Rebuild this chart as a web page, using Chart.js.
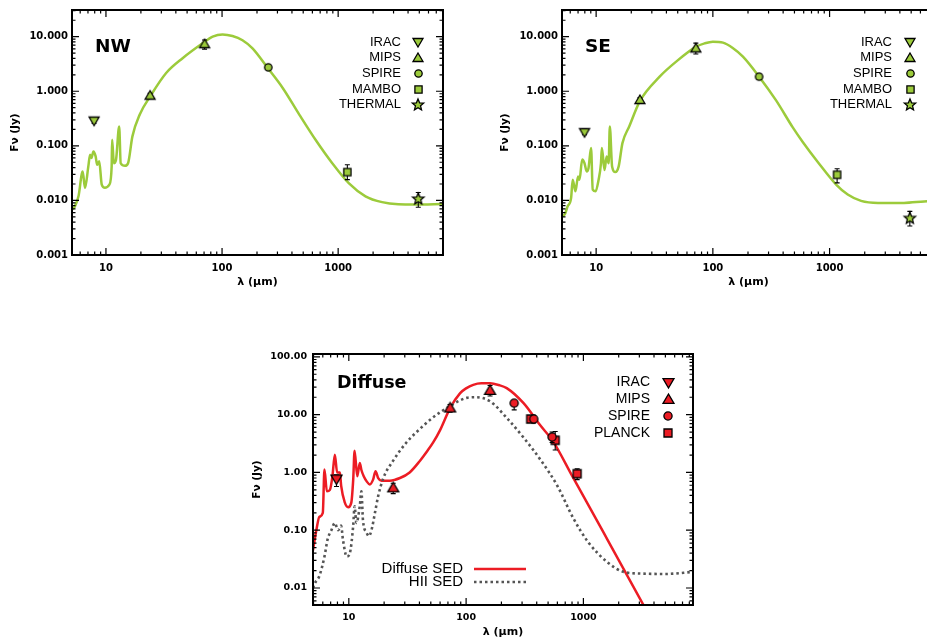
<!DOCTYPE html>
<html>
<head>
<meta charset="utf-8">
<script src="https://cdn.jsdelivr.net/npm/chart.js@4.4.1/dist/chart.umd.min.js"></script>
<style>
  html, body { margin: 0; padding: 0; background: #fff; }
  #page { position: relative; width: 927px; height: 640px; overflow: hidden; }
  canvas { position: absolute; }
</style>
</head>
<body>
<div id="page">
  <canvas id="nw" width="460" height="300" style="left:0;top:0"></canvas>
  <canvas id="se" width="460" height="300" style="left:490px;top:0"></canvas>
  <canvas id="diff" width="460" height="300" style="left:241px;top:340px"></canvas>
</div>
<script>
// ---- values ----
const xTickVals = [10, 100, 1000];
const xTickLabels = ['10', '100', '1000'];
const topYTickVals = [0.001, 0.01, 0.1, 1, 10];
const topYTickLabels = ['0.001', '0.010', '0.100', '1.000', '10.000'];
const diffYTickVals = [0.01, 0.1, 1, 10, 100];
const diffYTickLabels = ['0.01', '0.10', '1.00', '10.00', '100.00'];

const topLegendBands = ['IRAC', 'MIPS', 'SPIRE', 'MAMBO', 'THERMAL'];
const diffLegendBands = ['IRAC', 'MIPS', 'SPIRE', 'PLANCK'];
const modelLegendLabels = ['Diffuse SED', 'HII SED'];

// NW region
const nwModelLam = [5.1, 5.4, 5.8, 6.3, 6.6, 7.05, 7.3, 7.5, 7.8, 8.15, 8.4, 8.75, 9.2, 9.8, 10.7, 11.2, 11.3, 11.7, 12.2, 13.0, 13.4, 14.6, 15.5, 16.9, 19.6, 24, 33, 46, 68, 83, 101, 123, 150, 183, 246, 333, 464, 645, 890, 1240, 1720, 2390, 3300, 4600, 8000];
const nwModelFlux = [0.0068, 0.0078, 0.0119, 0.034, 0.0169, 0.042, 0.069, 0.060, 0.079, 0.064, 0.045, 0.052, 0.0195, 0.017, 0.0195, 0.042, 0.129, 0.048, 0.055, 0.226, 0.048, 0.043, 0.048, 0.149, 0.38, 0.80, 2.16, 4.07, 7.55, 10.0, 11.0, 10.3, 8.6, 6.1, 2.71, 1.15, 0.37, 0.125, 0.048, 0.0205, 0.0119, 0.0093, 0.0085, 0.0084, 0.0086];
const nwObsLam = [7.9, 24, 70.7, 250, 1200, 4900];
const nwObsFlux = [0.29, 0.83, 7.3, 2.74, 0.033, 0.0106];
const nwObsLo = [0.26, 0.75, 5.9, 2.5, 0.024, 0.0075];
const nwObsHi = [0.32, 0.92, 8.7, 3.0, 0.045, 0.014];
const nwObsBand = ['IRAC', 'MIPS', 'MIPS', 'SPIRE', 'MAMBO', 'THERMAL'];

// SE region
const seModelLam = [5.1, 5.37, 5.7, 6.1, 6.3, 6.65, 7.0, 7.2, 7.6, 7.95, 8.3, 8.6, 9.05, 9.35, 9.9, 10.5, 11.0, 11.2, 11.8, 12.3, 12.8, 13.1, 13.7, 14.6, 15.6, 16.8, 19.2, 23.7, 35, 48.5, 72, 85, 100, 122, 148, 181, 249, 348, 482, 593, 795, 1138, 1430, 1860, 2600, 4340, 6460, 8000];
const seModelFlux = [0.0052, 0.0055, 0.0078, 0.011, 0.024, 0.0147, 0.0275, 0.024, 0.056, 0.048, 0.034, 0.039, 0.091, 0.0158, 0.0147, 0.024, 0.048, 0.091, 0.036, 0.064, 0.048, 0.226, 0.042, 0.033, 0.042, 0.112, 0.226, 0.66, 1.85, 3.49, 6.56, 7.55, 8.1, 7.76, 6.2, 4.3, 1.85, 0.68, 0.22, 0.115, 0.05, 0.0195, 0.0128, 0.0098, 0.009, 0.009, 0.0096, 0.0098];
const seObsLam = [7.95, 23.7, 71.5, 249, 1160, 4870];
const seObsFlux = [0.178, 0.69, 6.1, 1.85, 0.0295, 0.0047];
const seObsLo = [0.16, 0.62, 4.8, 1.65, 0.021, 0.0034];
const seObsHi = [0.20, 0.76, 7.6, 2.05, 0.038, 0.0063];
const seObsBand = ['IRAC', 'MIPS', 'MIPS', 'SPIRE', 'MAMBO', 'THERMAL'];

// Diffuse
const diffModelLam = [4.95, 5.12, 5.3, 5.6, 6.0, 6.2, 6.5, 6.9, 7.25, 7.6, 7.95, 8.4, 8.6, 9.25, 9.87, 10.5, 10.9, 11.2, 11.8, 12.4, 12.8, 13.4, 14.2, 15.1, 16.1, 16.9, 17.8, 19.0, 22.4, 27.3, 33, 40, 47, 52.4, 60, 73, 89, 100, 115, 135, 160, 190, 222, 309, 427, 553, 800, 1500, 3300, 4500];
const diffModelFlux = [0.045, 0.069, 0.103, 0.17, 0.2, 1.12, 0.47, 0.5, 0.86, 2.03, 1.0, 1.0, 0.59, 0.30, 0.25, 0.30, 0.75, 2.38, 0.86, 1.46, 1.1, 0.86, 0.7, 0.62, 0.75, 1.05, 0.8, 0.72, 0.72, 0.8, 1.0, 1.55, 2.4, 3.3, 5.4, 13.0, 23.5, 28.5, 32.8, 34.8, 34.8, 32.5, 28.8, 15.8, 6.6, 3.41, 0.88, 0.088, 0.0048, 0.0015];
const hiiModelLam = [4.95, 5.12, 5.6, 6.2, 6.6, 7.1, 7.6, 8.1, 8.6, 8.9, 9.6, 10.2, 10.9, 11.2, 11.6, 12.4, 12.8, 13.2, 14.2, 14.8, 15.6, 16.7, 17.8, 19.7, 23.9, 31, 37.8, 52.4, 72.8, 101, 120, 160, 223, 309, 430, 596, 822, 1100, 1600, 2200, 3070, 5000, 8600];
const hiiModelFlux = [0.010, 0.012, 0.016, 0.035, 0.07, 0.10, 0.134, 0.10, 0.12, 0.07, 0.035, 0.04, 0.12, 0.26, 0.134, 0.26, 0.47, 0.15, 0.09, 0.079, 0.10, 0.2, 0.39, 0.8, 1.6, 3.3, 5.0, 9.0, 14, 19.5, 20, 17, 8.7, 4.0, 1.66, 0.6, 0.16, 0.062, 0.028, 0.019, 0.0178, 0.0175, 0.019];
const diffObsLam = [7.85, 23.9, 73, 160, 257, 377, 541, 355, 575, 885];
const diffObsFlux = [0.77, 0.54, 13.0, 26.2, 15.8, 8.4, 4.1, 8.4, 3.6, 0.95];
const diffObsLo = [0.57, 0.43, 11, 21, 12.1, 7.2, 3.3, 7.3, 2.45, 0.75];
const diffObsHi = [0.91, 0.65, 15, 32, 17.5, 9.6, 5.0, 9.5, 5.1, 1.15];
const diffObsBand = ['IRAC', 'MIPS', 'MIPS', 'MIPS', 'SPIRE', 'SPIRE', 'SPIRE', 'PLANCK', 'PLANCK', 'PLANCK'];

const GREEN = '#9ccb3b';
const RED = '#ec1c24';
const GREY = '#555555';
const bandShape = { IRAC: 'down', MIPS: 'up', SPIRE: 'circle', MAMBO: 'square', PLANCK: 'square', THERMAL: 'star' };

// small canvas used as point style (and legend symbol)
function marker(shape, fill, s) {
  const c = document.createElement('canvas');
  const size = Math.ceil(s + 4);
  c.width = c.height = size;
  const g = c.getContext('2d');
  const m = size / 2, r = s / 2;
  g.beginPath();
  if (shape === 'down') {
    g.moveTo(m - r, m - 0.7 * r); g.lineTo(m + r, m - 0.7 * r); g.lineTo(m, m + r); g.closePath();
  } else if (shape === 'up') {
    g.moveTo(m, m - r); g.lineTo(m + r, m + 0.7 * r); g.lineTo(m - r, m + 0.7 * r); g.closePath();
  } else if (shape === 'circle') {
    g.arc(m, m, r * 0.82, 0, Math.PI * 2);
  } else if (shape === 'square') {
    g.rect(m - r * 0.8, m - r * 0.8, r * 1.6, r * 1.6);
  } else {
    for (let k = 0; k < 10; k++) {
      const a = -Math.PI / 2 + k * Math.PI / 5;
      const rr = k % 2 ? r * 0.45 : r;
      g.lineTo(m + rr * Math.cos(a), m + rr * Math.sin(a));
    }
    g.closePath();
  }
  g.fillStyle = fill; g.fill();
  g.lineWidth = 1.3; g.strokeStyle = '#000'; g.stroke();
  return c;
}

function logTicks(s) {
  const out = [];
  for (let e = Math.floor(Math.log10(s.min)); e <= Math.ceil(Math.log10(s.max)); e++) {
    for (let k = 1; k < 10; k++) {
      const v = k * Math.pow(10, e);
      if (v >= s.min * 0.9999 && v <= s.max) out.push({ v, major: k === 1 });
    }
  }
  return out;
}

const sedPlugin = {
  id: 'sed',
  beforeDatasetDraw(chart, args) {
    const ds = chart.data.datasets[args.index];
    if (!ds.errLo) return;
    const ctx = chart.ctx, y = chart.scales.y;
    ctx.save();
    ctx.strokeStyle = '#000'; ctx.lineWidth = 1.1;
    args.meta.data.forEach((pt, i) => {
      const y1 = y.getPixelForValue(ds.errLo[i]), y2 = y.getPixelForValue(ds.errHi[i]);
      ctx.beginPath();
      ctx.moveTo(pt.x, y1); ctx.lineTo(pt.x, y2);
      ctx.moveTo(pt.x - 2.5, y1); ctx.lineTo(pt.x + 2.5, y1);
      ctx.moveTo(pt.x - 2.5, y2); ctx.lineTo(pt.x + 2.5, y2);
      ctx.stroke();
    });
    ctx.restore();
  },
  afterDraw(chart, args, opts) {
    const { ctx, chartArea: a, scales: { x, y } } = chart;
    ctx.save();
    // inward ticks on all four sides, then the frame
    ctx.strokeStyle = '#000'; ctx.lineWidth = 1.2;
    ctx.beginPath();
    logTicks(x).forEach(t => {
      const px = x.getPixelForValue(t.v), l = t.major ? 7 : 3.5;
      ctx.moveTo(px, a.bottom); ctx.lineTo(px, a.bottom - l);
      ctx.moveTo(px, a.top); ctx.lineTo(px, a.top + l);
    });
    logTicks(y).forEach(t => {
      const py = y.getPixelForValue(t.v), l = t.major ? 7 : 3.5;
      ctx.moveTo(a.left, py); ctx.lineTo(a.left + l, py);
      ctx.moveTo(a.right, py); ctx.lineTo(a.right - l, py);
    });
    ctx.stroke();
    ctx.lineWidth = 2;
    ctx.strokeRect(a.left, a.top, a.right - a.left, a.bottom - a.top);

    // panel name
    ctx.fillStyle = '#000';
    ctx.font = opts.titleFont;
    ctx.textBaseline = 'middle'; ctx.textAlign = 'left';
    ctx.fillText(opts.title, a.left + opts.titleDx, a.top + opts.titleDy);

    // band legend, text left of the symbol
    ctx.font = opts.legendFont;
    ctx.textAlign = 'right';
    opts.legend.forEach((band, i) => {
      const yy = a.top + opts.legendDy + i * opts.legendStep;
      ctx.fillText(band, a.right + opts.legendTextDx, yy);
      const img = marker(bandShape[band], opts.fill, opts.msize[bandShape[band]]);
      ctx.drawImage(img, Math.round(a.right + opts.legendSymDx - img.width / 2), Math.round(yy - img.height / 2));
    });

    // model line legend
    if (opts.lines) {
      opts.lines.forEach((ln, i) => {
        const yy = a.bottom + opts.linesDy + i * opts.linesStep;
        ctx.fillStyle = '#000';
        ctx.textAlign = 'right';
        ctx.font = opts.linesFont;
        ctx.fillText(ln.label, a.left + opts.linesTextDx, yy);
        ctx.beginPath();
        ctx.strokeStyle = ln.color; ctx.lineWidth = ln.width;
        ctx.setLineDash(ln.dash);
        ctx.moveTo(a.left + opts.linesFrom, yy); ctx.lineTo(a.left + opts.linesTo, yy);
        ctx.stroke();
        ctx.setLineDash([]);
      });
    }
    ctx.restore();
  }
};

function sedChart(id, cfg) {
  const datasets = cfg.models.map(m => ({
    data: m.lam.map((v, i) => ({ x: v, y: m.flux[i] })),
    showLine: true, pointRadius: 0, borderColor: m.color, borderWidth: m.width,
    borderDash: m.dash || [], borderCapStyle: 'butt',
    cubicInterpolationMode: 'monotone', order: 2
  }));
  cfg.legend.forEach(band => {
    const idx = cfg.obsBand.map((b, i) => (b === band ? i : -1)).filter(i => i >= 0);
    if (!idx.length) return;
    datasets.push({
      label: band,
      data: idx.map(i => ({ x: cfg.obsLam[i], y: cfg.obsFlux[i] })),
      errLo: idx.map(i => cfg.obsLo[i]),
      errHi: idx.map(i => cfg.obsHi[i]),
      pointStyle: marker(bandShape[band], cfg.fill, cfg.msize[bandShape[band]]),
      pointRadius: 5, order: 1
    });
  });

  const tickFont = { family: 'DejaVu Sans', weight: 'bold', size: cfg.tickSize };
  return new Chart(document.getElementById(id), {
    type: 'scatter',
    data: { datasets },
    plugins: [sedPlugin],
    options: {
      responsive: false, animation: false, events: [],
      layout: { padding: cfg.pad },
      scales: {
        x: {
          type: 'logarithmic', min: cfg.xMin, max: cfg.xMax,
          afterBuildTicks: s => { s.ticks = xTickVals.map(v => ({ value: v })); },
          afterFit: s => { s.height = cfg.xAxisH; },
          grid: { display: false, drawTicks: false }, border: { display: false },
          ticks: { callback: (v, i) => xTickLabels[i], font: tickFont, color: '#000', padding: 7, autoSkip: false, maxRotation: 0 },
          title: { display: true, text: 'λ (μm)', color: '#000', font: { family: 'DejaVu Sans', weight: 'bold', size: 11 }, padding: { top: 0, bottom: cfg.xTitlePad } }
        },
        y: {
          type: 'logarithmic', min: cfg.yMin, max: cfg.yMax,
          afterBuildTicks: s => { s.ticks = cfg.yTickVals.map(v => ({ value: v })); },
          afterFit: s => { s.width = 72; },
          grid: { display: false, drawTicks: false }, border: { display: false },
          ticks: { callback: (v, i) => cfg.yTickLabels[i], font: tickFont, color: '#000', padding: cfg.yTickPad, autoSkip: false },
          title: { display: true, text: 'Fν (Jy)', color: '#000', font: { family: 'DejaVu Sans', weight: 'bold', size: 10.5 }, padding: { top: cfg.yTitlePad, bottom: 0 } }
        }
      },
      plugins: { legend: { display: false }, tooltip: { enabled: false }, sed: cfg.deco }
    }
  });
}

const topSizes = { down: 10, up: 10, circle: 9, square: 9, star: 12 };
const diffSizes = { down: 11, up: 11, circle: 10, square: 10, star: 12 };

function topDeco(title, textDx, symDx) {
  return {
    title, titleFont: 'bold 18.5px "DejaVu Sans"', titleDx: 23, titleDy: 37,
    legend: topLegendBands, legendFont: '13px "Liberation Sans"',
    legendTextDx: textDx, legendSymDx: symDx, legendDy: 32, legendStep: 15.7,
    fill: GREEN, msize: topSizes
  };
}

sedChart('nw', {
  models: [{ lam: nwModelLam, flux: nwModelFlux, color: GREEN, width: 2.5 }],
  obsLam: nwObsLam, obsFlux: nwObsFlux, obsLo: nwObsLo, obsHi: nwObsHi, obsBand: nwObsBand,
  legend: topLegendBands, fill: GREEN, msize: topSizes,
  xMin: 5.1, xMax: 8000, yMin: 0.001, yMax: 30.8,
  yTickVals: topYTickVals, yTickLabels: topYTickLabels,
  pad: { left: 0, right: 17, top: 10, bottom: 0 }, xAxisH: 45, xTitlePad: 11,
  yTitlePad: 9, yTickPad: 4, tickSize: 10,
  deco: topDeco('NW', -42, -25)
});

sedChart('se', {
  models: [{ lam: seModelLam, flux: seModelFlux, color: GREEN, width: 2.5 }],
  obsLam: seObsLam, obsFlux: seObsFlux, obsLo: seObsLo, obsHi: seObsHi, obsBand: seObsBand,
  legend: topLegendBands, fill: GREEN, msize: topSizes,
  xMin: 5.1, xMax: 8000, yMin: 0.001, yMax: 30.8,
  yTickVals: topYTickVals, yTickLabels: topYTickLabels,
  pad: { left: 0, right: 15, top: 10, bottom: 0 }, xAxisH: 45, xTitlePad: 11,
  yTitlePad: 9, yTickPad: 4, tickSize: 10,
  deco: topDeco('SE', -43, -25)
});

const diffDeco = {
  title: 'Diffuse', titleFont: 'bold 17.5px "DejaVu Sans"', titleDx: 24, titleDy: 29,
  legend: diffLegendBands, legendFont: '14px "Liberation Sans"',
  legendTextDx: -43, legendSymDx: -25, legendDy: 28, legendStep: 17,
  fill: RED, msize: diffSizes,
  lines: [
    { label: modelLegendLabels[0], color: RED, width: 2.5, dash: [] },
    { label: modelLegendLabels[1], color: GREY, width: 2.6, dash: [2.5, 3] }
  ],
  linesFont: '15px "Liberation Sans"', linesTextDx: 150, linesFrom: 161, linesTo: 213,
  linesDy: -36, linesStep: 13
};

sedChart('diff', {
  models: [
    { lam: hiiModelLam, flux: hiiModelFlux, color: GREY, width: 2.6, dash: [2.5, 3] },
    { lam: diffModelLam, flux: diffModelFlux, color: RED, width: 2.5 }
  ],
  obsLam: diffObsLam, obsFlux: diffObsFlux, obsLo: diffObsLo, obsHi: diffObsHi, obsBand: diffObsBand,
  legend: diffLegendBands, fill: RED, msize: diffSizes,
  xMin: 4.95, xMax: 8600, yMin: 0.00508, yMax: 112,
  yTickVals: diffYTickVals, yTickLabels: diffYTickLabels,
  pad: { left: 0, right: 8, top: 14, bottom: 0 }, xAxisH: 35, xTitlePad: 1,
  yTitlePad: 10, yTickPad: 6, tickSize: 9.5,
  deco: diffDeco
});
</script>
</body>
</html>
